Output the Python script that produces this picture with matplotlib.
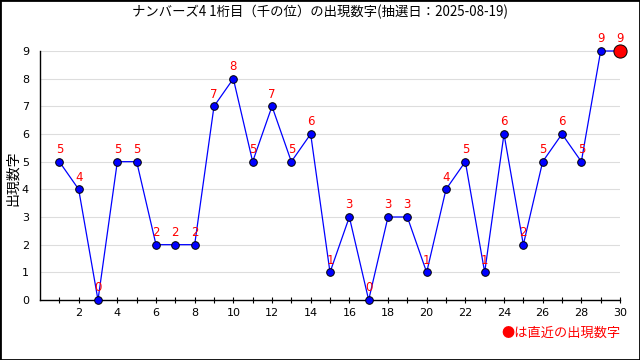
import matplotlib.pyplot as plt
from matplotlib.patches import Rectangle

plt.rcParams['font.family'] = ['Noto Sans CJK JP', 'DejaVu Sans']

draws = list(range(1, 31))
digits = [5, 4, 0, 5, 5, 2, 2, 2, 7, 8, 5, 7, 5, 6, 1, 3, 0, 3, 3, 1,
          4, 5, 1, 6, 2, 5, 6, 5, 9, 9]
title = 'ナンバーズ4 1桁目（千の位）の出現数字(抽選日：2025-08-19)'

fig = plt.figure(figsize=(6.4, 3.6), dpi=100)
ax = fig.add_axes([40 / 640, 1 - 300 / 360, 580 / 640, 249 / 360])

ax.plot(draws, digits, color='#0000ff', lw=0.9, marker='o', ms=5.5,
        mfc='#0000ff', mec='black', mew=0.7, clip_on=False, zorder=3)
ax.plot(draws[-1], digits[-1], 'o', ms=9.5, mfc='#ff0000', mec='black',
        mew=0.7, clip_on=False, zorder=4)

for x, y in zip(draws, digits):
    ax.annotate(str(y), (x, y), xytext=(0, 4), textcoords='offset points',
                ha='center', va='bottom', color='#ff0000', fontsize=8.5,
                family='DejaVu Sans')

ax.set_xlim(0, 30)
ax.set_ylim(0, 9)
ax.set_xticks(draws)
ax.set_xticklabels([str(x) if x % 2 == 0 else '' for x in draws])
ax.set_yticks(range(10))
ax.tick_params(axis='x', length=4, width=0.8, labelsize=8, direction='inout')
ax.tick_params(axis='y', length=0, labelsize=8, pad=8)
for lab in ax.get_xticklabels() + ax.get_yticklabels():
    lab.set_family('DejaVu Sans')
ax.grid(axis='y', color='#dddddd', lw=0.8)
ax.set_axisbelow(True)
for s in ['top', 'right']:
    ax.spines[s].set_visible(False)
for s in ['left', 'bottom']:
    ax.spines[s].set_linewidth(1.0)

# y axis title placed by hand so it sits left of the tick labels
fig.text(13 / 640, 1 - 178 / 360, '出現数字', rotation=90, ha='center',
         va='center', fontsize=10)
fig.text(0.5, 1 - 12 / 360, title, ha='center', va='center', fontsize=9.6)
fig.text(0.97, 1 - 333 / 360, '●は直近の出現数字', ha='right', va='center',
         color='#ff0000', fontsize=9.5)

fig.patches.append(Rectangle((0, 0), 1, 1, transform=fig.transFigure,
                             fill=False, ec='black', lw=2))

fig.savefig('out.png', dpi=100)
